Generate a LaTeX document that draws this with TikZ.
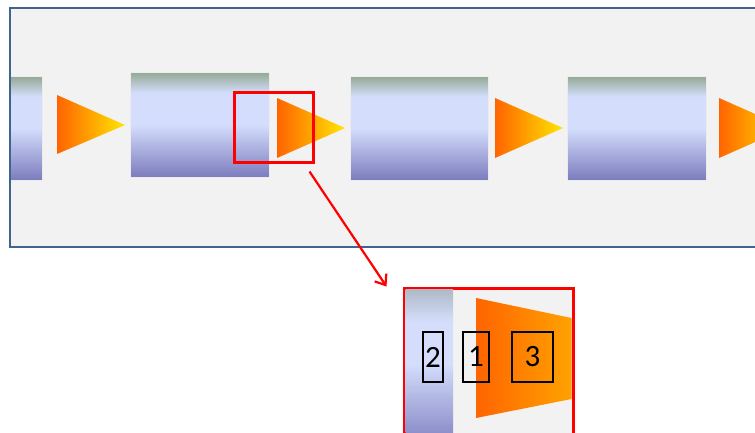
\documentclass[tikz,border=0pt]{standalone}
\usepackage{fontspec}
\setmainfont{Carlito}
\usepackage{tikz}
\usetikzlibrary{positioning}
\usetikzlibrary{arrows.meta}
\usepackage{xcolor}

\definecolor{panelfill}{HTML}{F2F2F2}
\definecolor{paneledge}{HTML}{41638F}
\definecolor{blktop}{HTML}{93A893}
\definecolor{blklight}{HTML}{D4DEFC}
\definecolor{blkbot}{HTML}{7C7CBE}
\definecolor{stripTop}{HTML}{AEBAC6}
\definecolor{triA}{HTML}{FF6400}
\definecolor{triB}{HTML}{FFE600}
\definecolor{trapB}{HTML}{FFA200}

% stage gradient: grey-green lip, pale band, violet foot
\pgfdeclareverticalshading{blockshade}{100bp}{color(0bp)=(blkbot); color(25bp)=(blkbot);
  color(50bp)=(blklight); color(65bp)=(blklight); color(75bp)=(blktop); color(100bp)=(blktop)}
\pgfdeclareverticalshading{stripshade}{100bp}{color(0bp)=(blkbot); color(25bp)=(blkbot);
  color(52bp)=(blklight); color(65bp)=(blklight); color(75bp)=(stripTop); color(100bp)=(stripTop)}

\begin{document}
\begin{tikzpicture}[x=1pt, y=-1pt,
  panel/.style={draw=paneledge, line width=2.5pt},
  stage/.style={shading=blockshade, draw=white!85!gray, line width=0.6pt},
  arrowtri/.style={left color=triA, right color=triB},
  lensbox/.style={draw=red, line width=3pt, inner sep=0pt},
  cell/.style={draw=black, line width=1.6pt, inner sep=0pt, minimum height=50pt,
    font=\fontsize{31}{31}\selectfont}]
  \useasboundingbox (0,0) rectangle (755,432);
  \clip (0,0) rectangle (755,432);

  % pipeline strip
  \fill[panelfill] (10,8) rectangle (790,247);
  \shade[stage] (10,76) rectangle (42,180);
  \shade[stage] (130,72) rectangle (269,177);
  \shade[stage] (350,76) rectangle (488,180);
  \shade[stage] (567,76) rectangle (706,180);
  \shade[arrowtri] (57,95) -- (125,125) -- (57,154) -- cycle;
  \foreach \x in {277,495,719}
    \shade[arrowtri] (\x,98) -- (\x+68,128) -- (\x,158) -- cycle;
  \draw[panel] (10,8) rectangle (790,247);

  % magnified part
  \node[lensbox, minimum width=79pt, minimum height=70pt] (lens) at (273.5,127) {};
  \node[lensbox, fill=panelfill, minimum width=169pt, minimum height=170pt] (zoom) at (488.5,373) {};
  \shade[shading=stripshade] (405.5,289.5) rectangle (453,450);
  \shade[left color=triA, right color=trapB] (476,298) -- (571.5,318) -- (571.5,399) -- (476,418) -- cycle;

  \node[cell, minimum width=20pt] (c2) at (433,357) {2};
  \node[cell, minimum width=26pt] (c1) at (476,357) {1};
  \node[cell, minimum width=41pt] (c3) at (532.5,357) {3};

  \draw[red, line width=2.2pt, -{Straight Barb[length=9pt,width=14pt]}]
    ([shift={(-5,8)}]lens.south east) -- ([xshift=-16pt]zoom.north west);
\end{tikzpicture}
\end{document}
